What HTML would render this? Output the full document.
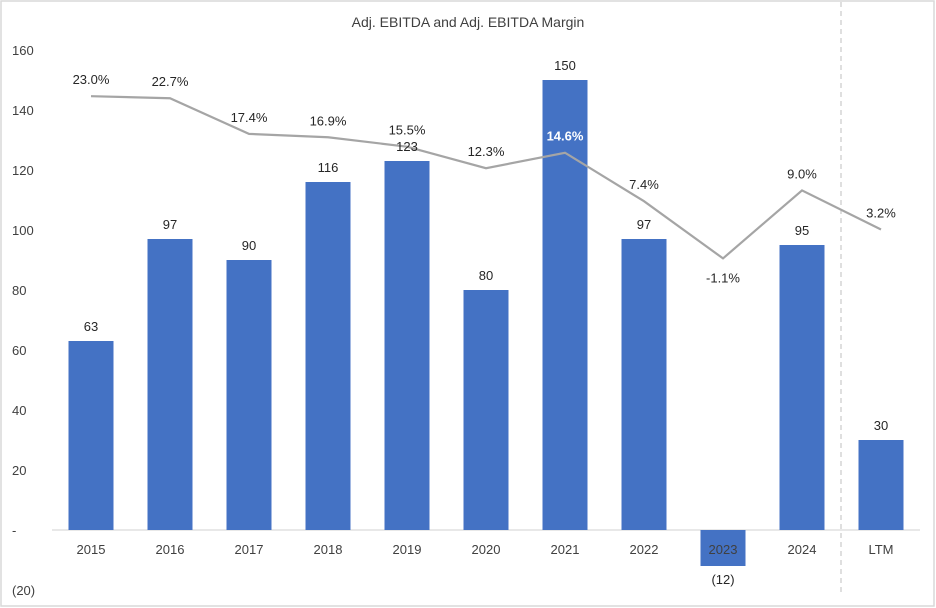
<!DOCTYPE html>
<html><head><meta charset="utf-8"><style>
html,body{margin:0;padding:0;background:#fff}
svg{display:block;font-family:"Liberation Sans",Calibri,sans-serif}
</style></head><body>
<svg id="chart" width="936" height="608" viewBox="0 0 936 608">
<rect x="1" y="1" width="933" height="605" fill="#fff" stroke="#d9d9d9" stroke-width="1.5"/>
<text x="468" y="27" text-anchor="middle" font-size="14" fill="#404040">Adj. EBITDA and Adj. EBITDA Margin</text>
<g id="axes"></g><g id="bars"></g><g id="line"></g><g id="labels"></g>
</svg>
<script>
const categories=["2015","2016","2017","2018","2019","2020","2021","2022","2023","2024","LTM"];
const ebitdaValues=[63,97,90,116,123,80,150,97,-12,95,30];
const ebitdaLabels=["63","97","90","116","123","80","150","97","(12)","95","30"];
const marginValues=[23.0,22.7,17.4,16.9,15.5,12.3,14.6,7.4,-1.1,9.0,3.2];
const yTicks=[-20,0,20,40,60,80,100,120,140,160];
const yTickLabels=["(20)","-","20","40","60","80","100","120","140","160"];
const NS="http://www.w3.org/2000/svg";
const xC=i=>91+i*79;
const yV=v=>530-v*3;
const yM=m=>251-m*6.73;
function mk(tag,attrs,parent,text){const e=document.createElementNS(NS,tag);for(const k in attrs)e.setAttribute(k,attrs[k]);if(text!==undefined)e.textContent=text;document.getElementById(parent).appendChild(e);return e;}
yTicks.forEach((t,i)=>{
  const e=mk("text",{x:12,y:yV(t)+5,"font-size":13,fill:"#404040"},"axes",yTickLabels[i]);
  
  
});
const bl=mk("line",{x1:52,x2:920,y1:530,y2:530,stroke:"#d9d9d9","stroke-width":1.2},"axes");


const dl=mk("line",{x1:841,x2:841,y1:2,y2:596,stroke:"#bfbfbf","stroke-width":1,"stroke-dasharray":"5,4"},"axes");


categories.forEach((c,i)=>{
  const v=ebitdaValues[i];const y0=yV(Math.max(v,0)),y1=yV(Math.min(v,0));
  const r=mk("rect",{x:xC(i)-22.5,y:y0,width:45,height:y1-y0,fill:"#4472c4"},"bars");
  
  
  const xl=mk("text",{x:xC(i),y:554,"text-anchor":"middle","font-size":13,fill:"#404040"},"labels",c);
  
  
  const ly=v>=0?yV(v)-10:yV(v)+18;
  const vl=mk("text",{x:xC(i),y:ly,"text-anchor":"middle","font-size":13,fill:"#262626"},"labels",ebitdaLabels[i]);
  
  
});
const pts=marginValues.map((m,i)=>xC(i)+","+yM(m)).join(" ");
const pl=mk("polyline",{points:pts,fill:"none",stroke:"#a5a5a5","stroke-width":2.2},"line");


marginValues.forEach((m,i)=>{
  const below=m<0;const inside=categories[i]==="2021";
  const ly=below?yM(m)+24:yM(m)-12;
  const t=mk("text",{x:xC(i),y:ly,"text-anchor":"middle","font-size":13,fill:inside?"#fff":"#262626","font-weight":inside?"bold":"normal"},"labels",m.toFixed(1)+"%");
  
  
});
</script>
</body></html>
